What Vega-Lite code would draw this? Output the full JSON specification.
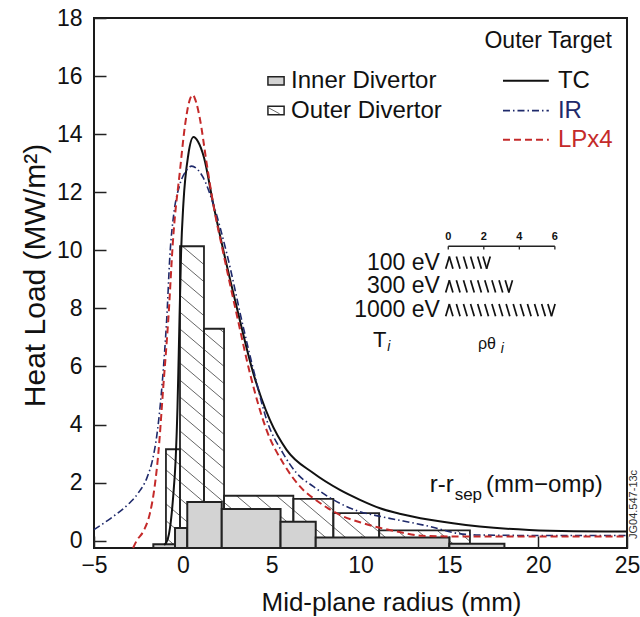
{
  "$schema": "https://vega.github.io/schema/vega-lite/v6.json",
  "width": 533,
  "height": 530,
  "autosize": "none",
  "padding": {"left": 94, "top": 18, "right": 13, "bottom": 69},
  "background": "white",
  "config": {
    "font": "Liberation Sans",
    "view": {"stroke": "#1a1a1a", "strokeWidth": 2},
    "text": {"font": "Liberation Sans", "color": "#111", "baseline": "middle", "align": "left"}
  },
  "datasets": {
    "hatch": [
      {"x": 0.98, "y": 10.2, "x2": 16.16, "y2": 2.32},
      {"x": -0.14, "y": 10.2, "x2": 16.16, "y2": 1.74},
      {"x": -0.95, "y": 10.03, "x2": 16.16, "y2": 1.15},
      {"x": -0.95, "y": 9.45, "x2": 16.16, "y2": 0.57},
      {"x": -0.95, "y": 8.86, "x2": 16.16, "y2": -0.02},
      {"x": -0.95, "y": 8.28, "x2": 15.49, "y2": -0.25},
      {"x": -0.95, "y": 7.7, "x2": 14.37, "y2": -0.25},
      {"x": -0.95, "y": 7.11, "x2": 13.23, "y2": -0.25},
      {"x": -0.95, "y": 6.53, "x2": 12.11, "y2": -0.25},
      {"x": -0.95, "y": 5.94, "x2": 10.98, "y2": -0.25},
      {"x": -0.95, "y": 5.36, "x2": 9.86, "y2": -0.25},
      {"x": -0.95, "y": 4.78, "x2": 8.74, "y2": -0.25},
      {"x": -0.95, "y": 4.19, "x2": 7.6, "y2": -0.25},
      {"x": -0.95, "y": 3.61, "x2": 6.49, "y2": -0.25},
      {"x": -0.95, "y": 3.02, "x2": 5.35, "y2": -0.25},
      {"x": -0.95, "y": 2.44, "x2": 4.23, "y2": -0.25},
      {"x": -0.95, "y": 1.86, "x2": 3.12, "y2": -0.25},
      {"x": -0.95, "y": 1.27, "x2": 1.98, "y2": -0.25},
      {"x": -0.95, "y": 0.69, "x2": 0.86, "y2": -0.25},
      {"x": -0.95, "y": 0.1, "x2": -0.28, "y2": -0.25}
    ],
    "outerStep": [
      {"x": -0.95, "y": 3.15}, {"x": -0.16, "y": 10.14}, {"x": 1.19, "y": 7.3},
      {"x": 2.32, "y": 1.55}, {"x": 6.22, "y": 1.44}, {"x": 8.47, "y": 0.95},
      {"x": 11.05, "y": 0.36}, {"x": 16.16, "y": 0.36}
    ],
    "outer": [
      {"x": -0.95, "x2": -0.16, "y": 3.15},
      {"x": -0.16, "x2": 1.19, "y": 10.14},
      {"x": 1.19, "x2": 2.32, "y": 7.3},
      {"x": 2.32, "x2": 6.22, "y": 1.55},
      {"x": 6.22, "x2": 8.47, "y": 1.44},
      {"x": 8.47, "x2": 11.05, "y": 0.95},
      {"x": 11.05, "x2": 16.16, "y": 0.36}
    ],
    "inner": [
      {"x": -1.66, "x2": -0.44, "y": -0.12},
      {"x": -0.44, "x2": 0.25, "y": 0.44},
      {"x": 0.25, "x2": 2.19, "y": 1.33},
      {"x": 2.19, "x2": 5.5, "y": 1.09},
      {"x": 5.5, "x2": 7.48, "y": 0.65},
      {"x": 7.48, "x2": 15.0, "y": 0.11},
      {"x": 15.0, "x2": 18.1, "y": -0.1}
    ],
    "tc": [
      {"x": -1.05, "y": -0.15}, {"x": -0.85, "y": 0.05}, {"x": -0.72, "y": 0.45}, {"x": -0.54, "y": 1.55},
      {"x": -0.4, "y": 2.85}, {"x": -0.3, "y": 4.6}, {"x": -0.23, "y": 6.45}, {"x": -0.1, "y": 9.9},
      {"x": 0.03, "y": 11.6}, {"x": 0.31, "y": 13.3}, {"x": 0.6, "y": 13.9}, {"x": 0.85, "y": 13.75},
      {"x": 1.19, "y": 13.2}, {"x": 1.71, "y": 11.6}, {"x": 2.28, "y": 10.0}, {"x": 3.03, "y": 8.05},
      {"x": 3.97, "y": 5.76}, {"x": 4.9, "y": 4.16}, {"x": 5.84, "y": 3.13}, {"x": 7.34, "y": 2.33},
      {"x": 8.84, "y": 1.75}, {"x": 9.97, "y": 1.41}, {"x": 11.1, "y": 1.12}, {"x": 12.2, "y": 0.93},
      {"x": 13.9, "y": 0.72}, {"x": 16.7, "y": 0.49}, {"x": 19.5, "y": 0.37}, {"x": 22.0, "y": 0.33},
      {"x": 25.0, "y": 0.32}
    ],
    "ir": [
      {"x": -5.0, "y": 0.38}, {"x": -4.0, "y": 0.8}, {"x": -3.0, "y": 1.3}, {"x": -2.5, "y": 1.65},
      {"x": -2.0, "y": 2.2}, {"x": -1.7, "y": 2.8}, {"x": -1.47, "y": 3.6}, {"x": -1.25, "y": 4.8},
      {"x": -1.05, "y": 6.3}, {"x": -0.91, "y": 7.6}, {"x": -0.72, "y": 9.9}, {"x": -0.5, "y": 11.3},
      {"x": -0.2, "y": 12.2}, {"x": 0.2, "y": 12.75}, {"x": 0.5, "y": 12.9}, {"x": 0.8, "y": 12.8},
      {"x": 1.15, "y": 12.5}, {"x": 1.71, "y": 11.6}, {"x": 2.47, "y": 9.9}, {"x": 3.4, "y": 7.36},
      {"x": 3.97, "y": 5.9}, {"x": 4.72, "y": 4.16}, {"x": 5.65, "y": 3.0}, {"x": 6.4, "y": 2.33},
      {"x": 7.34, "y": 1.87}, {"x": 8.47, "y": 1.41}, {"x": 9.97, "y": 1.0}, {"x": 11.1, "y": 0.84},
      {"x": 13.9, "y": 0.49}, {"x": 15.4, "y": 0.26}, {"x": 16.5, "y": 0.2}, {"x": 20.0, "y": 0.18},
      {"x": 25.0, "y": 0.18}
    ],
    "lp": [
      {"x": -2.8, "y": -0.25}, {"x": -2.6, "y": 0.0}, {"x": -2.2, "y": 0.35}, {"x": -1.85, "y": 0.95},
      {"x": -1.6, "y": 1.8}, {"x": -1.38, "y": 3.0}, {"x": -1.1, "y": 5.3}, {"x": -0.82, "y": 7.6},
      {"x": -0.54, "y": 10.46}, {"x": -0.16, "y": 12.75}, {"x": 0.1, "y": 14.2}, {"x": 0.35, "y": 15.1},
      {"x": 0.55, "y": 15.35}, {"x": 0.75, "y": 15.1}, {"x": 0.97, "y": 14.5}, {"x": 1.34, "y": 13.0},
      {"x": 1.71, "y": 11.6}, {"x": 2.28, "y": 9.9}, {"x": 3.03, "y": 7.8}, {"x": 3.78, "y": 5.76},
      {"x": 4.72, "y": 3.8}, {"x": 5.65, "y": 2.67}, {"x": 6.59, "y": 1.87}, {"x": 7.72, "y": 1.3},
      {"x": 8.84, "y": 0.89}, {"x": 10.16, "y": 0.6}, {"x": 12.03, "y": 0.32}, {"x": 13.5, "y": 0.17},
      {"x": 15.0, "y": 0.15}, {"x": 25.0, "y": 0.15}
    ],
    "bs": [
      {"x": 15.1, "y": 9.58}, {"x": 15.5, "y": 9.58}, {"x": 15.9, "y": 9.58}, {"x": 16.3, "y": 9.58}, {"x": 16.7, "y": 9.58}, {"x": 17.0, "y": 9.58},
      {"x": 15.1, "y": 8.76}, {"x": 15.5, "y": 8.76}, {"x": 15.9, "y": 8.76}, {"x": 16.3, "y": 8.76}, {"x": 16.7, "y": 8.76},
      {"x": 17.1, "y": 8.76}, {"x": 17.5, "y": 8.76}, {"x": 17.9, "y": 8.76}, {"x": 18.25, "y": 8.76},
      {"x": 15.1, "y": 7.94}, {"x": 15.5, "y": 7.94}, {"x": 15.9, "y": 7.94}, {"x": 16.3, "y": 7.94}, {"x": 16.7, "y": 7.94},
      {"x": 17.1, "y": 7.94}, {"x": 17.5, "y": 7.94}, {"x": 17.9, "y": 7.94}, {"x": 18.3, "y": 7.94}, {"x": 18.7, "y": 7.94},
      {"x": 19.1, "y": 7.94}, {"x": 19.5, "y": 7.94}, {"x": 19.9, "y": 7.94}, {"x": 20.3, "y": 7.94}, {"x": 20.65, "y": 7.94}
    ],
    "fs": [
      {"x": 14.9, "y": 9.58}, {"x": 17.2, "y": 9.58},
      {"x": 14.9, "y": 8.76}, {"x": 18.45, "y": 8.76},
      {"x": 14.9, "y": 7.94}, {"x": 20.85, "y": 7.94}
    ]
  },
  "encoding": {
    "x": {
      "field": "x", "type": "quantitative",
      "scale": {"domain": [-5, 25], "nice": false, "zero": false},
      "axis": {
        "values": [-5, 0, 5, 10, 15, 20, 25], "grid": false, "domain": false,
        "tickSize": -12, "tickWidth": 1.5, "tickColor": "#222",
        "labelFontSize": 23, "labelPadding": 18, "labelColor": "#111", "labelFlush": false, "labelOverlap": false,
        "title": "Mid-plane radius (mm)", "titleFontSize": 26, "titleFontWeight": "normal", "titleColor": "#111", "titlePadding": 12,
        "titleX": 297, "titleAlign": "center"
      }
    },
    "y": {
      "field": "y", "type": "quantitative",
      "scale": {"domain": [-0.25, 18], "nice": false, "zero": false},
      "axis": {
        "values": [0, 2, 4, 6, 8, 10, 12, 14, 16, 18], "grid": false, "domain": false,
        "tickSize": -12, "tickWidth": 1.5, "tickColor": "#222",
        "labelFontSize": 23, "labelPadding": 24, "labelColor": "#111", "labelFlush": false, "labelOverlap": false,
        "title": "Heat Load (MW/m²)", "titleFontSize": 30, "titleFontWeight": "normal", "titleColor": "#111", "titlePadding": 6,
        "titleY": 257, "titleAlign": "center"
      }
    }
  },
  "layer": [
    {
      "data": {"name": "hatch"},
      "mark": {"type": "rule", "color": "#555", "strokeWidth": 0.9},
      "encoding": {"x2": {"field": "x2"}, "y2": {"field": "y2"}}
    },
    {
      "data": {"name": "outerStep"},
      "mark": {"type": "area", "interpolate": "step-after", "color": "white", "opacity": 1},
      "encoding": {"y2": {"datum": 10.45}}
    },
    {
      "data": {"name": "outer"},
      "mark": {"type": "rect", "fillOpacity": 0, "stroke": "#222", "strokeWidth": 1.8},
      "encoding": {"x2": {"field": "x2"}, "y2": {"datum": -0.25}}
    },
    {
      "data": {"name": "inner"},
      "mark": {"type": "rect", "fill": "#d3d3d3", "stroke": "#222", "strokeWidth": 2},
      "encoding": {"x2": {"field": "x2"}, "y2": {"datum": -0.25}}
    },
    {
      "data": {"name": "tc"},
      "mark": {"type": "line", "color": "#111", "strokeWidth": 2, "interpolate": "monotone"}
    },
    {
      "data": {"name": "ir"},
      "mark": {"type": "line", "color": "#1f2a6b", "strokeWidth": 1.6, "strokeDash": [7, 3, 1.5, 3], "interpolate": "monotone"}
    },
    {
      "data": {"name": "lp"},
      "mark": {"type": "line", "color": "#c42a2a", "strokeWidth": 2, "strokeDash": [7, 4], "interpolate": "monotone"}
    },
    {
      "data": {"values": [{"x": 4.79, "x2": 5.7, "y": 15.69, "y2": 15.98}]},
      "mark": {"type": "rect", "fill": "#d3d3d3", "stroke": "#222", "strokeWidth": 1.5},
      "encoding": {"x2": {"field": "x2"}, "y2": {"field": "y2"}}
    },
    {
      "data": {"values": [{"x": 4.79, "x2": 5.7, "y": 14.67, "y2": 14.96}]},
      "mark": {"type": "rect", "fill": "white", "stroke": "#222", "strokeWidth": 1.5},
      "encoding": {"x2": {"field": "x2"}, "y2": {"field": "y2"}}
    },
    {
      "data": {"values": [{"x": 4.85, "y": 14.9, "x2": 5.45, "y2": 14.7}]},
      "mark": {"type": "rule", "color": "#555", "strokeWidth": 0.9},
      "encoding": {"x2": {"field": "x2"}, "y2": {"field": "y2"}}
    },
    {
      "data": {"values": [{"x": 18.02, "x2": 20.6, "y": 15.84}]},
      "mark": {"type": "rule", "color": "#111", "strokeWidth": 2},
      "encoding": {"x2": {"field": "x2"}}
    },
    {
      "data": {"values": [{"x": 18.02, "x2": 20.6, "y": 14.81}]},
      "mark": {"type": "rule", "color": "#1f2a6b", "strokeWidth": 1.6, "strokeDash": [7, 3, 1.5, 3]},
      "encoding": {"x2": {"field": "x2"}}
    },
    {
      "data": {"values": [{"x": 18.02, "x2": 20.6, "y": 13.81}]},
      "mark": {"type": "rule", "color": "#c42a2a", "strokeWidth": 2, "strokeDash": [7, 4]},
      "encoding": {"x2": {"field": "x2"}}
    },
    {
      "data": {"values": [
        {"x": 6.09, "y": 15.84, "t": "Inner Divertor"},
        {"x": 6.09, "y": 14.81, "t": "Outer Divertor"},
        {"x": 21.11, "y": 15.84, "t": "TC"},
        {"x": 13.9, "y": 1.92, "t": "r-r"},
        {"x": 17.07, "y": 1.92, "t": "(mm−omp)"}
      ]},
      "mark": {"type": "text", "fontSize": 24, "align": "left"},
      "encoding": {"text": {"field": "t"}}
    },
    {
      "data": {"values": [{"x": 21.11, "y": 14.81, "t": "IR"}]},
      "mark": {"type": "text", "fontSize": 24, "align": "left", "color": "#1f2a6b"},
      "encoding": {"text": {"field": "t"}}
    },
    {
      "data": {"values": [{"x": 21.11, "y": 13.81, "t": "LPx4"}]},
      "mark": {"type": "text", "fontSize": 24, "align": "left", "color": "#c42a2a"},
      "encoding": {"text": {"field": "t"}}
    },
    {
      "data": {"values": [
        {"x": 24.15, "y": 17.22, "t": "Outer Target"},
        {"x": 14.47, "y": 9.58, "t": "100 eV"},
        {"x": 14.47, "y": 8.76, "t": "300 eV"},
        {"x": 14.47, "y": 7.94, "t": "1000 eV"}
      ]},
      "mark": {"type": "text", "fontSize": 23, "align": "right"},
      "encoding": {"text": {"field": "t"}}
    },
    {
      "data": {"values": [{"x": 15.3, "y": 1.58, "t": "sep"}]},
      "mark": {"type": "text", "fontSize": 17, "align": "left"},
      "encoding": {"text": {"field": "t"}}
    },
    {
      "data": {"values": [{"x": 10.7, "y": 6.92, "t": "T"}]},
      "mark": {"type": "text", "fontSize": 22, "align": "left"},
      "encoding": {"text": {"field": "t"}}
    },
    {
      "data": {"values": [{"x": 11.5, "y": 6.68, "t": "i"}, {"x": 17.9, "y": 6.6, "t": "i"}]},
      "mark": {"type": "text", "fontSize": 14, "fontStyle": "italic", "align": "left"},
      "encoding": {"text": {"field": "t"}}
    },
    {
      "data": {"values": [{"x": 16.61, "y": 6.78, "t": "ρθ"}]},
      "mark": {"type": "text", "fontSize": 16, "align": "left"},
      "encoding": {"text": {"field": "t"}}
    },
    {
      "data": {"values": [{"x": 14.94, "x2": 20.94, "y": 10.14}]},
      "mark": {"type": "rule", "color": "#222", "strokeWidth": 1.3},
      "encoding": {"x2": {"field": "x2"}}
    },
    {
      "data": {"values": [
        {"x": 14.94, "y": 10.14, "y2": 10.03}, {"x": 16.94, "y": 10.14, "y2": 10.03},
        {"x": 18.94, "y": 10.14, "y2": 10.03}, {"x": 20.94, "y": 10.14, "y2": 10.03}
      ]},
      "mark": {"type": "rule", "color": "#222", "strokeWidth": 1.3},
      "encoding": {"y2": {"field": "y2"}}
    },
    {
      "data": {"values": [
        {"x": 14.94, "y": 10.45, "t": "0"}, {"x": 16.94, "y": 10.45, "t": "2"},
        {"x": 18.94, "y": 10.45, "t": "4"}, {"x": 20.94, "y": 10.45, "t": "6"}
      ]},
      "mark": {"type": "text", "fontSize": 11, "fontWeight": "bold", "align": "center"},
      "encoding": {"text": {"field": "t"}}
    },
    {
      "data": {"name": "bs"},
      "mark": {"type": "point", "shape": "M-0.3,-1L0.3,1", "size": 150, "filled": false, "color": "#111", "strokeWidth": 1.7, "opacity": 1}
    },
    {
      "data": {"name": "fs"},
      "mark": {"type": "point", "shape": "M0.3,-1L-0.3,1", "size": 150, "filled": false, "color": "#111", "strokeWidth": 1.7, "opacity": 1}
    },
    {
      "data": {"values": [{"x": 25.4, "y": 1.25, "t": "JG04.547-13c"}]},
      "mark": {"type": "text", "fontSize": 11, "align": "center", "angle": 270, "color": "#333"},
      "encoding": {"text": {"field": "t"}}
    }
  ]
}
